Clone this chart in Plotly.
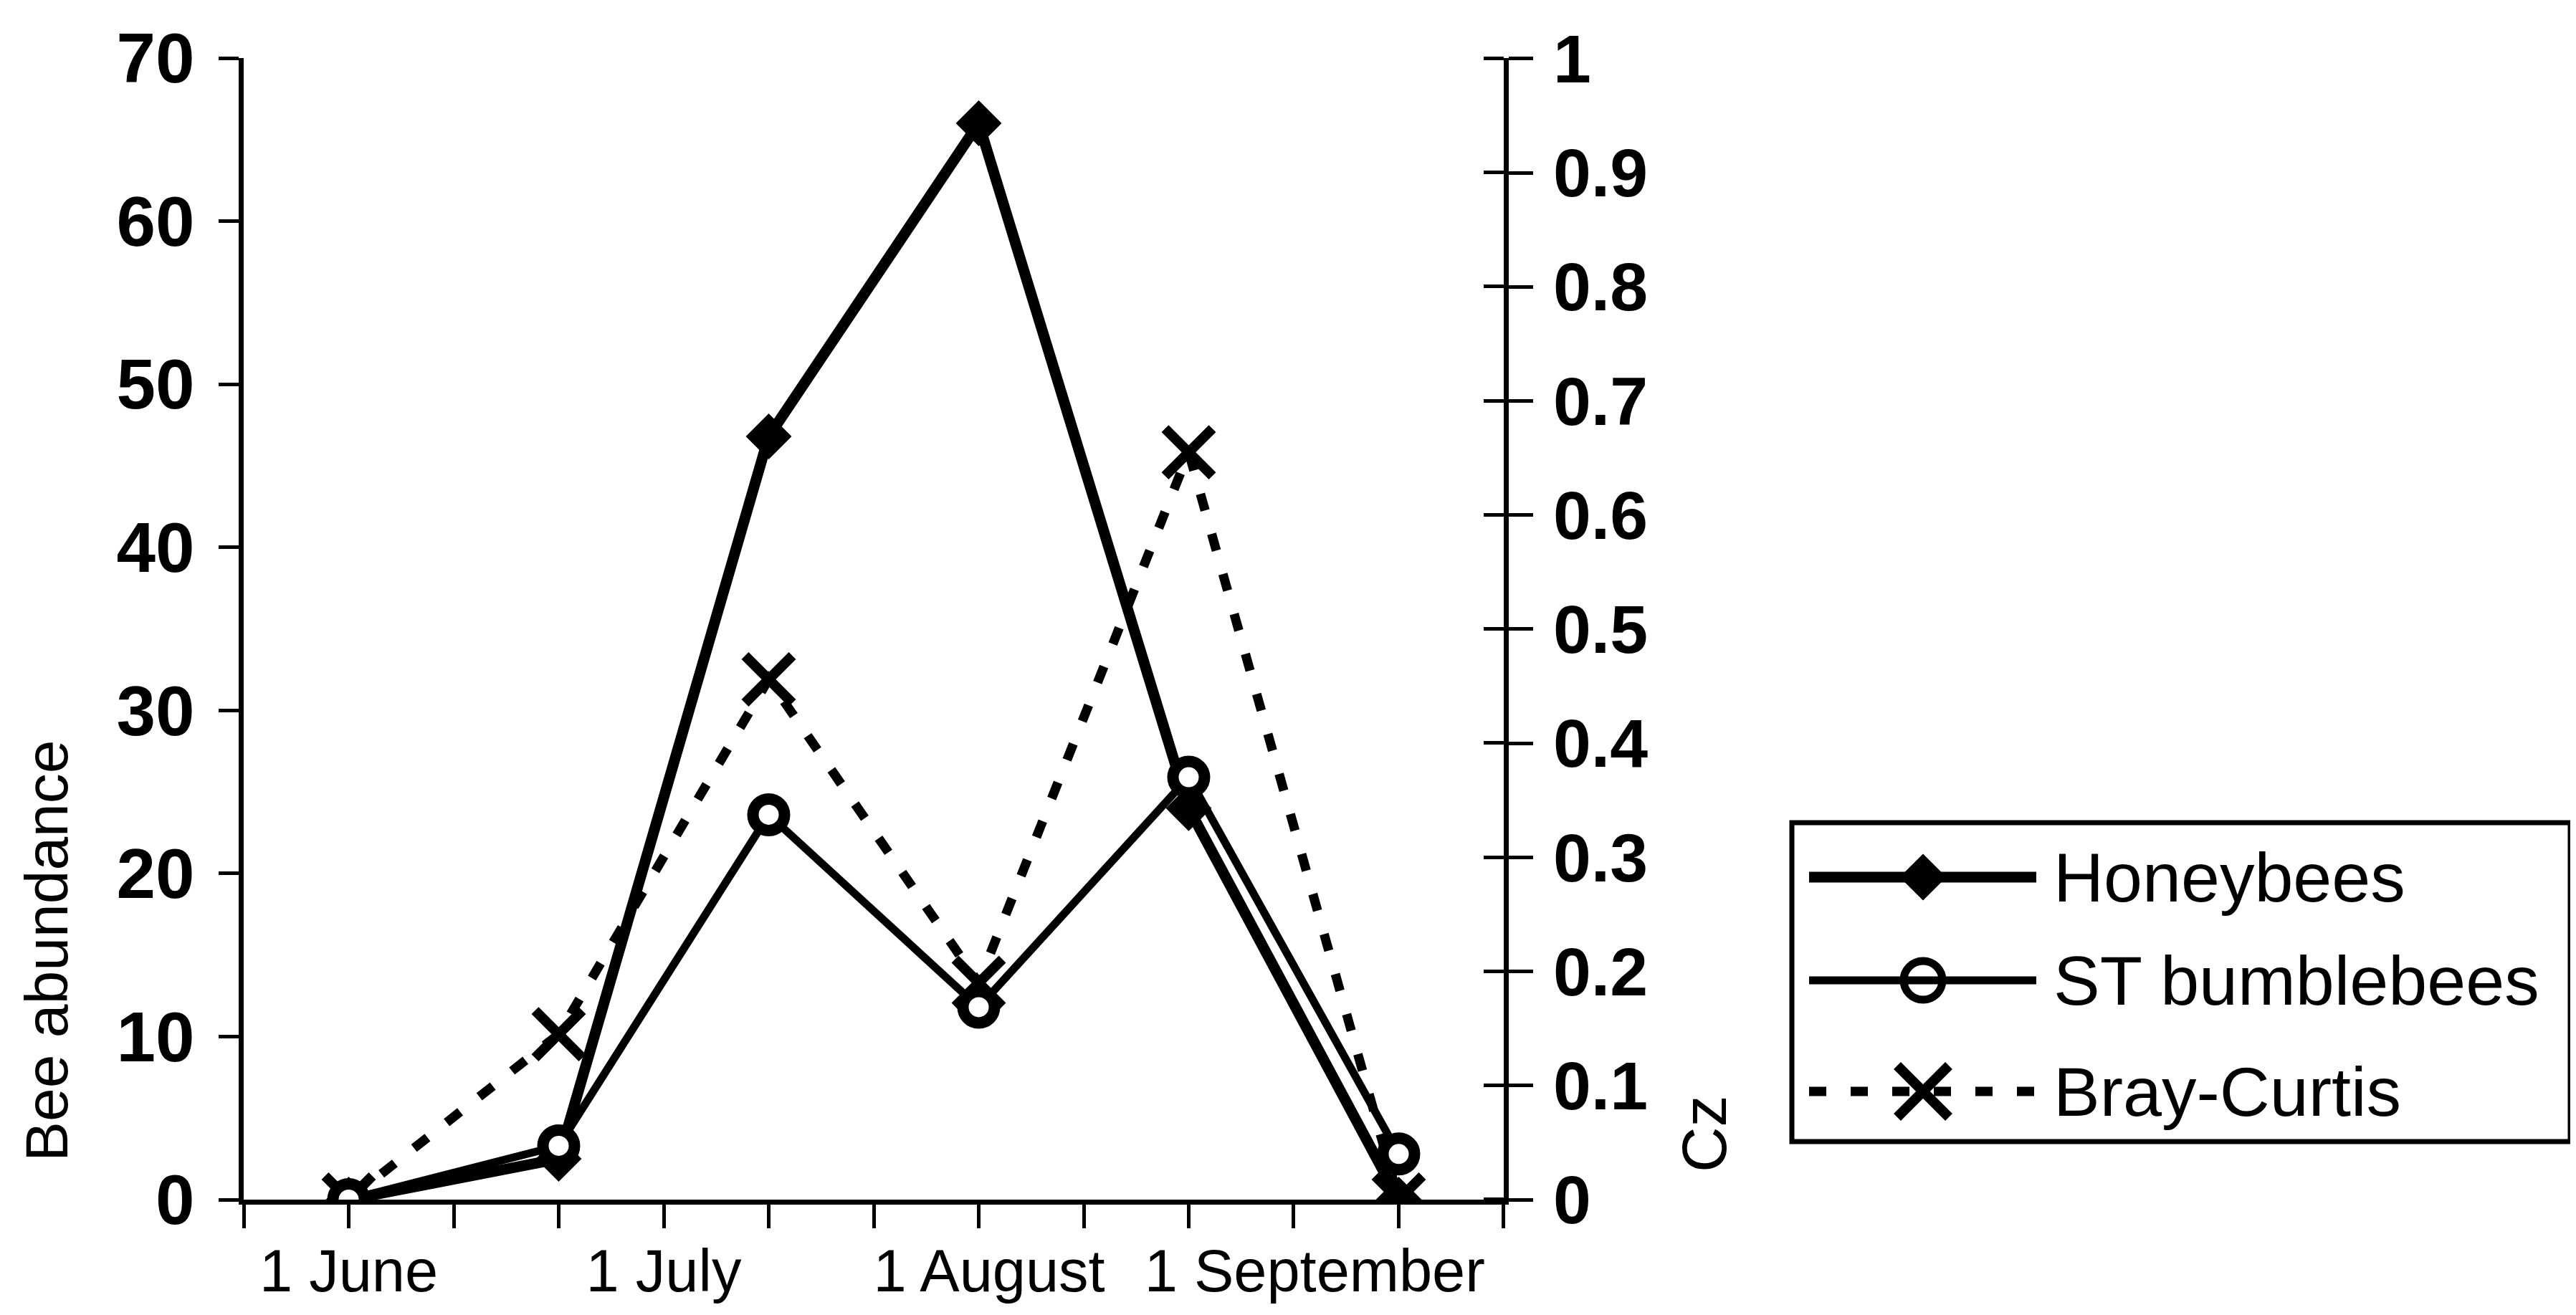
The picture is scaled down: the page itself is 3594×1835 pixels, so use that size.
import plotly.graph_objects as go

# ---------------- data ----------------
sample_dates = ["2000-06-01", "2000-06-21", "2000-07-11", "2000-07-31", "2000-08-20", "2000-09-09"]
honeybees = [0, 2.5, 46.8, 66.0, 24.0, 0]
st_bumblebees = [0, 3.3, 23.6, 11.8, 25.9, 2.8]
bray_curtis = [0, 0.145, 0.456, 0.19, 0.655, 0]
series_names = ["Honeybees", "ST bumblebees", "Bray-Curtis"]
month_label_dates = ["2000-06-01", "2000-07-01", "2000-08-01", "2000-09-01"]
month_labels = ["1 June", "1 July", "1 August", "1 September"]
x_range = ["2000-05-22", "2000-09-19 00:02"]
x_minor_tick0 = "2000-05-22 00:01"
abundance_range = [0, 70]
cz_range = [0, 1.0005]

# ---------------- layout geometry (px) ----------------
W, H = 3594, 1835
L, PR, T, PB = 332, 2090, 73, 1666      # plot left/right/top/bottom
MR = 10
plot_w = W - L - MR
plot_h = PB - T
xdom_main = [0, (PR - L) / plot_w]

# legend box (px)
LB_x0, LB_x1, LB_y0, LB_y1 = 2492, 3578, 1140, 1585
leg_xdom = [(LB_x0 - L) / plot_w, (LB_x1 - L) / plot_w]
leg_ydom = [(PB - LB_y1) / plot_h, (PB - LB_y0) / plot_h]
def ly(py):
    return (LB_y1 - py) / (LB_y1 - LB_y0)
def lx(px):
    return (px - LB_x0) / (LB_x1 - LB_x0)
row_y = [ly(1216), ly(1360), ly(1515)]
key_x0, key_x1, key_xm = lx(2516), lx(2833), lx(2675)
text_x = lx(2855)

BLACK = "black"
sans = "Liberation Sans, Arial, Helvetica"

styles = {
    "Honeybees": dict(line=dict(color=BLACK, width=15),
                      marker=dict(symbol="diamond", size=47, color=BLACK,
                                  line=dict(color=BLACK, width=2))),
    "ST bumblebees": dict(line=dict(color=BLACK, width=11),
                          marker=dict(symbol="circle", size=44, color="white",
                                      line=dict(color=BLACK, width=16))),
    "Bray-Curtis": dict(line=dict(color=BLACK, width=13, dash="24px,34px"),
                        marker=dict(symbol="x-thin", size=66, color=BLACK,
                                    line=dict(color=BLACK, width=14))),
}

fig = go.Figure()

# Bray-Curtis on the base axis (right side), drawn first (bottom layer)
fig.add_trace(go.Scatter(x=sample_dates, y=bray_curtis, name=series_names[2],
                         mode="lines+markers", xaxis="x", yaxis="y",
                         showlegend=False, **styles["Bray-Curtis"]))
fig.add_trace(go.Scatter(x=sample_dates, y=honeybees, name=series_names[0],
                         mode="lines+markers", xaxis="x", yaxis="y2",
                         showlegend=False, **styles["Honeybees"]))
fig.add_trace(go.Scatter(x=sample_dates, y=st_bumblebees, name=series_names[1],
                         mode="lines+markers", xaxis="x", yaxis="y2",
                         showlegend=False, **styles["ST bumblebees"]))

# custom legend keys
legend_marker_override = {
    "Honeybees": dict(symbol="diamond", size=48, color=BLACK,
                      line=dict(color=BLACK, width=2)),
    "ST bumblebees": dict(symbol="circle-open", size=54, color=BLACK,
                          line=dict(color=BLACK, width=11)),
    "Bray-Curtis": dict(symbol="x-thin", size=72, color=BLACK,
                        line=dict(color=BLACK, width=14)),
}
for name, ry in zip(series_names, row_y):
    st = styles[name]
    fig.add_trace(go.Scatter(x=[key_x0, key_x1], y=[ry, ry], mode="lines",
                             line=st["line"], xaxis="x3", yaxis="y4",
                             showlegend=False, hoverinfo="skip"))
    fig.add_trace(go.Scatter(x=[key_xm], y=[ry], mode="markers",
                             marker=legend_marker_override[name],
                             xaxis="x3", yaxis="y4",
                             showlegend=False, hoverinfo="skip"))

axis_common = dict(showgrid=False, zeroline=False, linecolor=BLACK,
                   tickcolor=BLACK)

fig.update_layout(
    width=W, height=H,
    margin=dict(l=L, r=MR, t=T, b=H - PB, pad=0),
    paper_bgcolor="white", plot_bgcolor="white",
    showlegend=False,
    xaxis=dict(type="date", domain=xdom_main, range=x_range, anchor="y",
               showline=True, linewidth=7, ticks="",
               tickmode="array", tickvals=month_label_dates, ticktext=month_labels,
               ticklabelstandoff=21,
               tickfont=dict(family=sans, size=83, color=BLACK),
               minor=dict(tickmode="linear", tick0=x_minor_tick0, dtick=864000000,
                          ticks="outside", ticklen=33, tickwidth=5,
                          tickcolor=BLACK, showgrid=False),
               **axis_common),
    yaxis=dict(domain=[0, 1], range=cz_range, side="right", anchor="x",
               showline=True, linewidth=7, ticks="outside", ticklen=34,
               tickwidth=5, tickmode="linear", tick0=0, dtick=0.1,
               ticklabelstandoff=9,
               tickfont=dict(family=sans, size=95, color=BLACK, weight="bold"),
               minor=dict(tickmode="linear", tick0=0.0002, dtick=0.1,
                          ticks="inside", ticklen=28, tickwidth=5,
                          tickcolor=BLACK, showgrid=False),
               **axis_common),
    yaxis2=dict(overlaying="y", range=abundance_range, side="left", anchor="x",
                showline=True, linewidth=7, ticks="outside", ticklen=28,
                tickwidth=5, tickmode="linear", tick0=0, dtick=10,
                ticklabelstandoff=14,
                tickfont=dict(family=sans, size=98, color=BLACK, weight="bold"),
                **axis_common),
    xaxis3=dict(domain=leg_xdom, range=[0, 1], anchor="y4", visible=False,
                fixedrange=True),
    yaxis4=dict(domain=leg_ydom, range=[0, 1], anchor="x3", visible=False,
                fixedrange=True),
)

# legend box
fig.add_shape(type="rect", xref="x3 domain", yref="y4 domain",
              x0=0, x1=1, y0=0, y1=1, line=dict(color=BLACK, width=7),
              fillcolor="rgba(0,0,0,0)", layer="below")

# legend labels
for name, ry in zip(series_names, row_y):
    fig.add_annotation(text=name, xref="x3", yref="y4", x=text_x, y=ry,
                       xanchor="left", yanchor="middle", showarrow=False,
                       font=dict(family=sans, size=97, color=BLACK))

# axis titles
fig.add_annotation(text="Bee abundance", xref="paper", yref="paper",
                   x=(57 - L) / plot_w, y=(PB - 1319) / plot_h,
                   xanchor="center", yanchor="middle", textangle=-90,
                   showarrow=False, font=dict(family=sans, size=84, color=BLACK))
fig.add_annotation(text="Cz", xref="paper", yref="paper",
                   x=(2369 - L) / plot_w, y=(PB - 1574) / plot_h,
                   xanchor="center", yanchor="middle", textangle=-90,
                   showarrow=False, font=dict(family=sans, size=88, color=BLACK))

fig.write_html("out.html")
